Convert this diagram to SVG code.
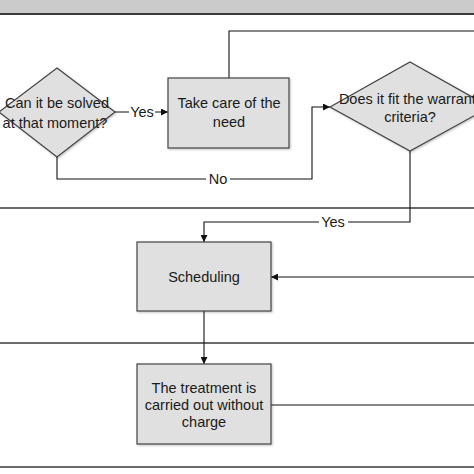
<svg xmlns="http://www.w3.org/2000/svg" width="474" height="474" viewBox="0 0 474 474">
<defs>
<style>
.lane{stroke:#3a3a3a;stroke-width:1.3;fill:none}
.shape{fill:#e0e0e0;stroke:#444;stroke-width:1.2}
.conn{stroke:#111;stroke-width:1.1;fill:none}
text{font-family:"Liberation Sans",Arial,sans-serif;font-size:14.5px;fill:#1a1a1a;text-anchor:middle}
</style>
<marker id="arr" viewBox="0 0 10 10" refX="10" refY="5" markerWidth="7" markerHeight="7" orient="auto" markerUnits="userSpaceOnUse">
<path d="M0,0 L10,5 L0,10 z" fill="#111"/>
</marker>
<filter id="sh" x="-10%" y="-10%" width="130%" height="130%">
<feDropShadow dx="1" dy="1" stdDeviation="0.8" flood-color="#000" flood-opacity="0.25"/>
</filter>
</defs>
<rect x="0" y="0" width="474" height="474" fill="#fff"/>
<rect x="0" y="0" width="474" height="14" fill="#cbcbcb"/>
<g id="lanes">
<line class="lane" x1="0" y1="14" x2="474" y2="14" style="stroke-width:1.8"/>
<line class="lane" x1="0" y1="208" x2="474" y2="208"/>
<line class="lane" x1="0" y1="343" x2="474" y2="343"/>
<line class="lane" x1="0" y1="467" x2="474" y2="467" style="stroke-width:1.6"/>
</g>
<g id="connectors">
<polyline class="conn" points="229,78 229,31 474,31"/>
<line class="conn" x1="115" y1="112" x2="168" y2="112" marker-end="url(#arr)"/>
<polyline class="conn" points="57,157 57,179 312,179 312,107 330,107" marker-end="url(#arr)"/>
<polyline class="conn" points="410,151 410,222 204,222 204,242" marker-end="url(#arr)"/>
<line class="conn" x1="474" y1="277" x2="271" y2="277" marker-end="url(#arr)"/>
<line class="conn" x1="204" y1="311" x2="204" y2="364" marker-end="url(#arr)"/>
<line class="conn" x1="271" y1="405" x2="474" y2="405"/>
<rect x="129" y="104" width="26" height="16" fill="#fff"/>
<text x="142" y="117">Yes</text>
<rect x="206" y="171" width="24" height="16" fill="#fff"/>
<text x="218" y="184">No</text>
<rect x="319" y="214" width="29" height="16" fill="#fff"/>
<text x="333" y="227">Yes</text>
</g>
<g id="n-solved">
<polygon class="shape" filter="url(#sh)" points="57,68 115,112 57,157 -1,112"/>
<text x="57" y="108">Can it be solved</text>
<text x="55" y="128">at that moment?</text>
</g>
<g id="n-takecare">
<rect class="shape" filter="url(#sh)" x="168" y="78" width="121" height="70"/>
<text x="229" y="108">Take care of the</text>
<text x="229" y="127">need</text>
</g>
<g id="n-warranty">
<polygon class="shape" filter="url(#sh)" points="410,62 490,107 410,151 330,107"/>
<text x="411" y="104">Does it fit the warranty</text>
<text x="410" y="122">criteria?</text>
</g>
<g id="n-scheduling">
<rect class="shape" filter="url(#sh)" x="137" y="242" width="134" height="69"/>
<text x="204" y="282">Scheduling</text>
</g>
<g id="n-treatment">
<rect class="shape" filter="url(#sh)" x="137" y="364" width="134" height="80"/>
<text x="204" y="393">The treatment is</text>
<text x="204" y="410">carried out without</text>
<text x="204" y="427">charge</text>
</g>
</svg>
